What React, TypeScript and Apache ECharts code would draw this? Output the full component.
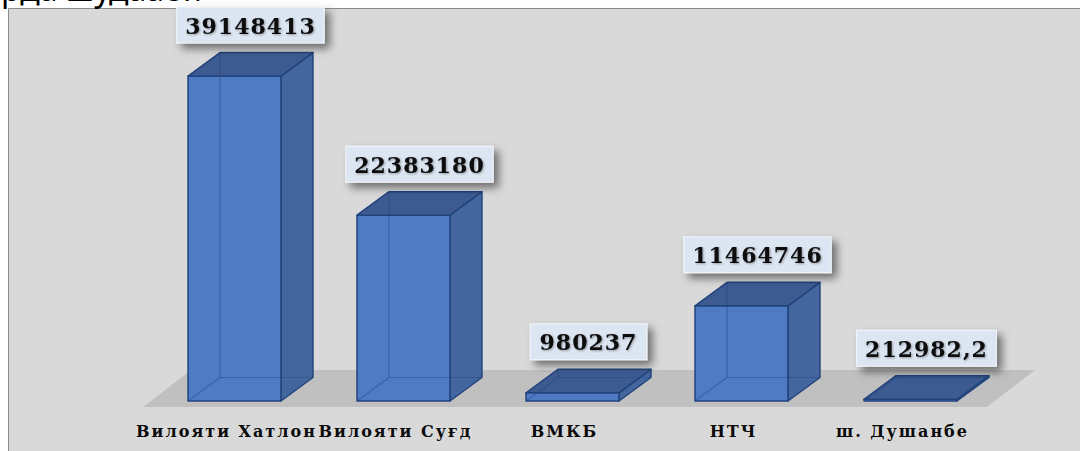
import React, { useEffect, useRef } from "react";
import * as echarts from "echarts";

const categories = ["Вилояти Хатлон", "Вилояти Суғд", "ВМКБ", "НТЧ", "ш. Душанбе"];
const values = [39148413, 22383180, 980237, 11464746, 212982.2];
const valueLabels = ["39148413", "22383180", "980237", "11464746", "212982,2"];
const captionText = "карда шудааст.";

const BAR_RATIO = 0.55;
const DEPTH_X = 0.344;
const DEPTH_Y = 0.253;

const css = `
text[style*="22px"] { letter-spacing: 1px; }
text[style*="16px"] { letter-spacing: 2px; }
`;

function renderFloor(params: any, api: any) {
  const cs = params.coordSys;
  const yb = api.coord([0, 0])[1] + 6;
  const x0 = cs.x - 7;
  const x1 = cs.x + cs.width - 8;
  return {
    type: "polygon",
    shape: {
      points: [
        [x0, yb],
        [x1, yb],
        [x1 + 48, yb - 37],
        [x0 + 48, yb - 37],
      ],
    },
    style: { fill: "#c1c0c0", stroke: "none" },
  };
}

function renderBar(params: any, api: any) {
  const idx = api.value(0);
  const val = api.value(1);
  const base = api.coord([idx, 0]);
  const top = api.coord([idx, val]);
  const bw = api.size([1, 0])[0] * BAR_RATIO;
  const dx = bw * DEPTH_X;
  const dy = -bw * DEPTH_Y;
  const x0 = base[0] - bw / 2;
  const x1 = base[0] + bw / 2;
  const yb = base[1];
  const yt = top[1];
  const edge = "#22447c";
  const hidden = "rgba(34,68,124,0.45)";
  return {
    type: "group",
    children: [
      {
        type: "polygon",
        shape: { points: [[x1, yb], [x1 + dx, yb + dy], [x1 + dx, yt + dy], [x1, yt]] },
        style: { fill: "#44669f", stroke: edge, lineWidth: 1.5, lineJoin: "round" },
      },
      {
        type: "polygon",
        shape: { points: [[x0, yb], [x1, yb], [x1, yt], [x0, yt]] },
        style: { fill: "#4f7bc5", stroke: edge, lineWidth: 1.5, lineJoin: "round" },
      },
      {
        type: "polygon",
        shape: { points: [[x0, yt], [x1, yt], [x1 + dx, yt + dy], [x0 + dx, yt + dy]] },
        style: { fill: "#3d5b91", stroke: edge, lineWidth: 1.5, lineJoin: "round" },
      },
      {
        type: "polyline",
        shape: { points: [[x0 + dx, yt + dy], [x0 + dx, yb + dy], [x1 + dx, yb + dy]] },
        style: { fill: "none", stroke: hidden, lineWidth: 1.2 },
      },
      {
        type: "line",
        shape: { x1: x0, y1: yb, x2: x0 + dx, y2: yb + dy },
        style: { stroke: hidden, lineWidth: 1.2 },
      },
    ],
  };
}

function renderLabel(params: any, api: any) {
  const idx = api.value(0);
  const val = api.value(1);
  const base = api.coord([idx, 0]);
  const top = api.coord([idx, val]);
  const bw = api.size([1, 0])[0] * BAR_RATIO;
  const dx = bw * DEPTH_X;
  const dy = -bw * DEPTH_Y;
  return {
    type: "text",
    x: base[0] + dx / 2,
    y: top[1] + dy - 10,
    style: {
      text: valueLabels[params.dataIndex],
      font: 'bold 22px "DejaVu Serif"',
      fill: "#0a0a0a",
      align: "center",
      verticalAlign: "bottom",
      backgroundColor: "#dce6f2",
      borderColor: "#f4f7fb",
      borderWidth: 1,
      padding: [7, 12, 6, 12],
      shadowBlur: 8,
      shadowColor: "rgba(0,0,0,0.5)",
      shadowOffsetX: 5,
      shadowOffsetY: 5,
      textShadowColor: "rgba(0,0,0,0.35)",
      textShadowBlur: 2,
      textShadowOffsetX: 1,
      textShadowOffsetY: 1,
    },
  };
}

export default function App() {
  const ref = useRef<HTMLDivElement>(null);
  useEffect(() => {
    if (!ref.current) return;
    const chart = echarts.init(ref.current, undefined, { renderer: "svg" });
    const data = values.map((v, i) => [i, v]);
    chart.setOption({
      animation: false,
      backgroundColor: "#ffffff",
      graphic: [
        {
          type: "rect",
          z: 0,
          shape: { x: 8.5, y: 8.5, width: 1080, height: 460 },
          style: { fill: "#d9d9d9", stroke: "#8c8c8c", lineWidth: 1 },
        },
        {
          type: "text",
          z: 0,
          x: 202,
          y: -12,
          style: {
            text: captionText,
            font: '32px "Noto Sans"',
            fill: "#000000",
            align: "right",
            verticalAlign: "middle",
          },
        },
      ],
      grid: { left: 150, right: 85, top: 69, bottom: 50 },
      xAxis: {
        type: "category",
        data: categories,
        axisLine: { show: false },
        axisTick: { show: false },
        splitLine: { show: false },
        axisLabel: {
          interval: 0,
          margin: 22,
          fontFamily: "DejaVu Serif",
          fontWeight: "bold",
          fontSize: 16,
          color: "#0a0a0a",
          padding: [0, 16, 0, 0],
        },
      },
      yAxis: { type: "value", min: 0, max: 40000000, show: false, splitLine: { show: false } },
      series: [
        { type: "custom", renderItem: renderFloor, data: [[0, 0]], encode: { x: 0, y: 1 }, silent: true },
        { type: "custom", renderItem: renderBar, data, encode: { x: 0, y: 1 } },
        { type: "custom", renderItem: renderLabel, data, encode: { x: 0, y: 1 } },
      ],
    });
    return () => chart.dispose();
  }, []);
  return (
    <>
      <style>{css}</style>
      <div
        ref={ref}
        style={{ position: "fixed", left: 0, top: 0, width: 1080, height: 451 }}
      />
    </>
  );
}
